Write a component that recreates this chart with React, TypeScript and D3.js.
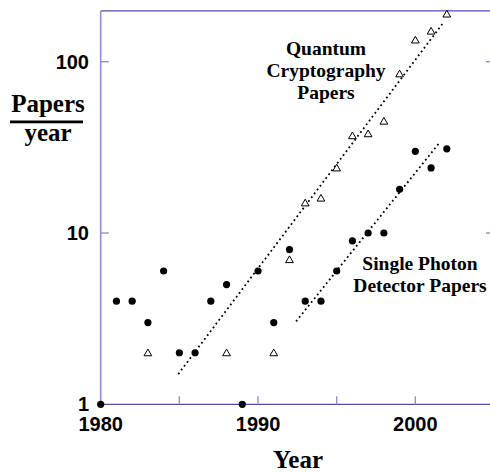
import React from 'react';
import * as d3 from 'd3';

// publications per year
const circleYears = [1980, 1981, 1982, 1983, 1984, 1985, 1986, 1987, 1988, 1989, 1990, 1991, 1992, 1993, 1994, 1995, 1996, 1997, 1998, 1999, 2000, 2001, 2002];
const circleCounts = [1, 4, 4, 3, 6, 2, 2, 4, 5, 1, 6, 3, 8, 4, 4, 6, 9, 10, 10, 18, 30, 24, 31];

const triangleYears = [1983, 1988, 1991, 1992, 1993, 1994, 1995, 1996, 1997, 1998, 1999, 2000, 2001, 2002];
const triangleCounts = [2, 2, 2, 7, 15, 16, 24, 37, 38, 45, 85, 134, 151, 190];

// dotted trend lines (two end points each)
const cryptoTrend: [number, number][] = [[1984.93, 1.5], [2001.78, 169]];
const photonTrend: [number, number][] = [[1992.42, 3.05], [2001.57, 34]];

const xTicks = [1980, 1985, 1990, 1995, 2000];
const xTickLabels = ['1980', '1990', '2000'];
const yTicks = [1, 10, 100];

const W = 490;
const H = 472;

const App: React.FC = () => {
  const x = d3.scaleLinear().domain([1980, 2005]).range([100.7, 494]);
  const y = d3.scaleLog().domain([1, 198]).range([404.3, 10.9]);

  const x0 = x.range()[0];
  const x1 = x.range()[1];
  const yBottom = y.range()[0];
  const yTop = y.range()[1];

  const line = d3.line<[number, number]>()
    .x(d => x(d[0]))
    .y(d => y(d[1]));

  const tri = d3.symbol().type(d3.symbolTriangle).size(26)();

  const axisDark = '#5a4aae';
  const axisLight = '#978dd0';

  return (
    <svg width={W} height={H} style={{ position: 'absolute', left: 0, top: 0, display: 'block' }}>
      <rect width={W} height={H} fill="#fff" />

      {/* frame */}
      <line x1={x0} x2={x1} y1={yTop} y2={yTop} stroke={axisDark} strokeWidth={1.3} />
      <line x1={x0} x2={x0} y1={yTop} y2={yBottom} stroke={axisLight} strokeWidth={1.6} />
      <line x1={x0} x2={x1} y1={yBottom} y2={yBottom} stroke={axisDark} strokeWidth={1.3} />

      {/* ticks */}
      {xTicks.filter(t => t > 1980).map(t => (
        <line key={'xt' + t} x1={x(t)} x2={x(t)} y1={yBottom} y2={yBottom - 8} stroke={axisLight} strokeWidth={1.4} />
      ))}
      {yTicks.filter(t => t > 1).map(t => (
        <g key={'yt' + t}>
          <line x1={x0} x2={x0 + 8} y1={y(t)} y2={y(t)} stroke={axisLight} strokeWidth={1.4} />
          <line x1={x1 - 8} x2={x1} y1={y(t)} y2={y(t)} stroke={axisLight} strokeWidth={1.4} />
        </g>
      ))}

      {/* tick labels */}
      <g fontFamily="'Liberation Sans', Arial, sans-serif" fontWeight="bold" fontSize={20} fill="#000">
        {xTickLabels.map(t => (
          <text key={'xl' + t} x={x(+t)} y={yBottom + 27} textAnchor="middle">{t}</text>
        ))}
        {yTicks.map(t => (
          <text key={'yl' + t} x={89} y={y(t)} dy="0.35em" textAnchor="end">{t}</text>
        ))}
      </g>

      {/* axis titles */}
      <g fontFamily="'Liberation Serif', 'Times New Roman', serif" fontWeight="bold" fill="#000">
        <text x={48} y={112} fontSize={25} textAnchor="middle">Papers</text>
        <rect x={10} y={120.5} width={73} height={2.8} fill="#000" />
        <text x={48} y={141} fontSize={25} textAnchor="middle">year</text>
        <text x={298} y={468} fontSize={25} textAnchor="middle">Year</text>

        <text fontSize={19.5} textAnchor="middle">
          <tspan x={326} y={55}>Quantum</tspan>
          <tspan x={326} y={77}>Cryptography</tspan>
          <tspan x={326} y={99}>Papers</tspan>
        </text>
        <text fontSize={19.5} textAnchor="middle">
          <tspan x={420} y={270}>Single Photon</tspan>
          <tspan x={420} y={292}>Detector Papers</tspan>
        </text>
      </g>

      {/* trend lines */}
      <path d={line(cryptoTrend) || ''} fill="none" stroke="#000" strokeWidth={1.8} strokeDasharray="1.8,3" />
      <path d={line(photonTrend) || ''} fill="none" stroke="#000" strokeWidth={1.8} strokeDasharray="1.8,3" />

      {/* markers */}
      {triangleYears.map((yr, i) => (
        <path key={'t' + yr} d={tri || ''} transform={`translate(${x(yr)},${y(triangleCounts[i]) + 0.8})`}
          fill="#fff" stroke="#000" strokeWidth={1} />
      ))}
      {circleYears.map((yr, i) => (
        <circle key={'c' + yr} cx={x(yr)} cy={y(circleCounts[i])} r={3.6} fill="#000" />
      ))}
    </svg>
  );
};

export default App;
